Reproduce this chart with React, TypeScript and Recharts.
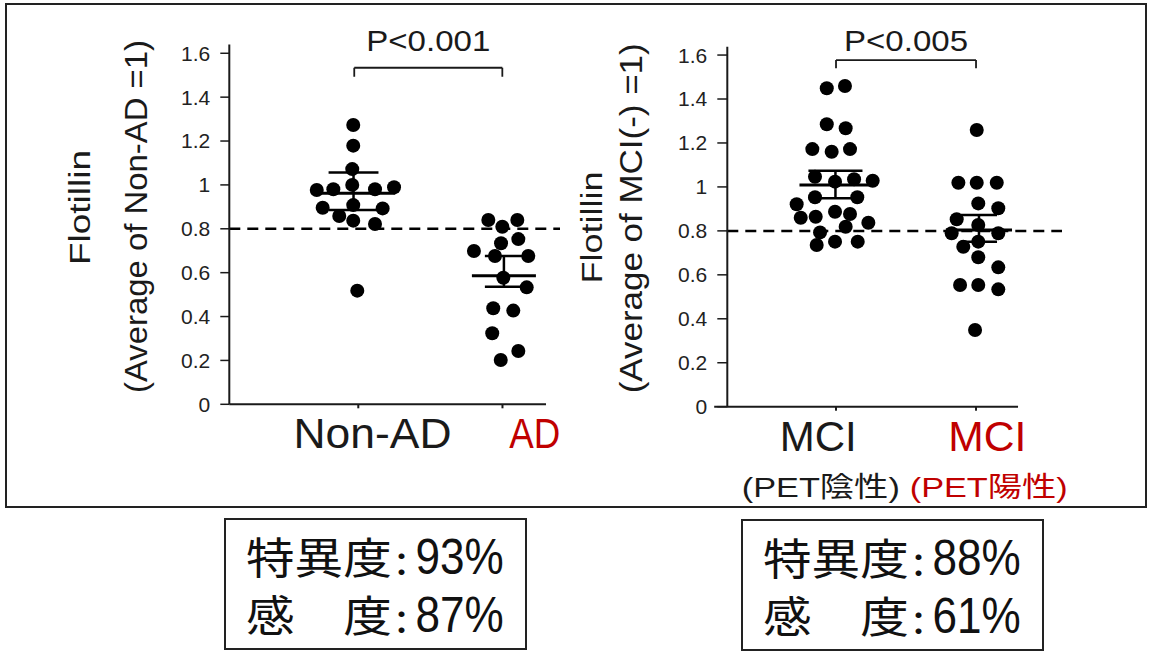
import React from 'react';
import { ScatterChart, Scatter, XAxis, YAxis, ReferenceLine, Label } from 'recharts';

const FONT = '"Liberation Sans", Arial, "Noto Sans CJK JP", sans-serif';
const CJK = '"Noto Sans CJK JP", "Noto Sans CJK SC", sans-serif';
const INK = '#1a1a1a';
const RED = '#c00000';

const yTicks = [0, 0.2, 0.4, 0.6, 0.8, 1, 1.2, 1.4, 1.6];
const cutoff = 0.8;

// Non-AD vs AD (jitter = horizontal spread around the category)
const nonAdValues = [1.273, 1.179, 1.072, 0.977, 0.98, 1.0, 0.98, 0.989, 0.896, 0.908, 0.893, 0.858, 0.837, 0.822, 0.518];
const nonAdJitter = [-0.035, -0.035, -0.042, -0.288, -0.173, -0.042, 0.116, 0.248, -0.247, -0.035, 0.169, -0.132, -0.035, 0.116, -0.007];
const adValues = [0.84, 0.84, 0.809, 0.753, 0.734, 0.699, 0.676, 0.676, 0.577, 0.533, 0.438, 0.427, 0.324, 0.243, 0.202];
const adJitter = [-0.098, 0.103, -0.001, 0.11, -0.01, -0.198, -0.052, 0.179, 0.006, 0.168, -0.064, 0.075, -0.071, 0.11, -0.012];

// MCI PET(-) vs MCI PET(+)
const mciNegValues = [1.449, 1.459, 1.285, 1.267, 1.172, 1.16, 1.172, 1.046, 1.024, 1.035, 1.028, 0.953, 0.953, 0.921, 0.887, 0.877, 0.86, 0.864, 0.837, 0.793, 0.819, 0.736, 0.751, 0.751];
const mciNegJitter = [-0.066, 0.064, -0.066, 0.069, -0.169, -0.031, 0.1, -0.15, -0.007, 0.129, 0.262, -0.15, 0.152, -0.281, -0.007, 0.1, -0.252, -0.145, 0.231, -0.114, 0.069, -0.138, -0.007, 0.155];
const mciPosValues = [1.259, 1.019, 1.019, 1.019, 0.925, 0.903, 0.853, 0.827, 0.789, 0.789, 0.728, 0.751, 0.68, 0.634, 0.554, 0.554, 0.534, 0.349];
const mciPosJitter = [0.005, -0.126, 0.005, 0.148, 0.016, 0.159, -0.138, 0.016, -0.174, 0.159, -0.091, 0.016, 0.016, 0.159, -0.114, 0.016, 0.159, -0.007];

// mean, lower SEM, upper SEM as drawn
const nonAdStats = [0.962, 0.886, 1.056];
const adStats = [0.586, 0.536, 0.676];
const mciNegStats = [1.009, 0.948, 1.074];
const mciPosStats = [0.804, 0.751, 0.872];

const leftLabels = ['Non-AD', 'AD'];
const rightLabels = ['MCI', 'MCI'];
const rightSubLabels = ['(PET陰性)', '(PET陽性)'];
const leftP = 'P<0.001';
const rightP = 'P<0.005';
const specLabels = ['特異度', '感\u3000度'];
const leftSpec = ['93%', '87%'];
const rightSpec = ['88%', '61%'];

const toPoints = (vals: number[], jit: number[], cat: number) =>
  vals.map((v, i) => ({ x: cat + jit[i], y: v }));

const dot = (p: any) => <circle cx={p.cx} cy={p.cy} r={7} fill="#000" />;

function StatLines({ center, stats, meanHalf, capHalf }: any) {
  const [m, lo, hi] = stats;
  const s = { stroke: '#000', strokeWidth: 2.5 };
  return [
    <ReferenceLine key="m" segment={[{ x: center - meanHalf, y: m }, { x: center + meanHalf, y: m }]} stroke="#000" strokeWidth={3} />,
    <ReferenceLine key="v" segment={[{ x: center, y: lo }, { x: center, y: hi }]} {...s} />,
    <ReferenceLine key="h" segment={[{ x: center - capHalf, y: hi }, { x: center + capHalf, y: hi }]} {...s} />,
    <ReferenceLine key="l" segment={[{ x: center - capHalf, y: lo }, { x: center + capHalf, y: lo }]} {...s} />,
  ];
}

function Panel(cfg: any) {
  const {
    left, width, margin, yAxisWidth, xDomain, yDomain, axisStart, axisEnd, groups,
    bracket, pText, pOffset, labels, labelShift, subLabels, subShift, yLabels, yTickSize,
  } = cfg;

  const renderTick = (props: any) => {
    const i = props.payload.value === 1 ? 0 : 1;
    return (
      <g>
        <text x={props.x + labelShift[i]} y={props.y} dy={38} textAnchor="middle" fontSize={42}
          fontFamily={FONT} fill={i === 0 ? INK : RED}
          textLength={labels[i].w} lengthAdjust="spacingAndGlyphs">{labels[i].t}</text>
        {subLabels && (
          <text x={props.x + subShift[i]} y={props.y} dy={84} textAnchor="middle" fontSize={28}
            fontFamily={FONT} fill={i === 0 ? INK : RED}
            textLength={158} lengthAdjust="spacingAndGlyphs">{subLabels[i]}</text>
        )}
      </g>
    );
  };

  const yLabel = () => (
    <g fontFamily={FONT} fill={INK}>
      {yLabels.map((l: any, i: number) => (
        <text key={i} transform={`translate(${l.x},${l.y}) rotate(-90)`} textAnchor="middle"
          fontSize={l.size} textLength={l.len} lengthAdjust="spacingAndGlyphs">{l.t}</text>
      ))}
    </g>
  );

  const pLabel = (p: any) => {
    const vb = p.viewBox || {};
    return (
      <text x={vb.x + (vb.width || 0) / 2} y={vb.y - pOffset} textAnchor="middle" fontSize={29}
        fontFamily={FONT} fill={INK} textLength={124} lengthAdjust="spacingAndGlyphs">{pText}</text>
    );
  };

  const [bx1, bx2, bTop, bLeg] = bracket;
  const line = { stroke: INK, strokeWidth: 1.8 };

  return (
    <div style={{ position: 'absolute', left, top: 0 }}>
      <ScatterChart width={width} height={505} margin={margin}>
        <XAxis type="number" dataKey="x" domain={xDomain} ticks={[1, 2]} allowDataOverflow
          axisLine={false} tickSize={4} tickLine={{ stroke: INK, strokeWidth: 2 }} height={90}
          tick={renderTick} interval={0} />
        <YAxis type="number" dataKey="y" domain={yDomain} ticks={yTicks} allowDataOverflow
          width={yAxisWidth} tickSize={yTickSize} tickMargin={10}
          axisLine={{ stroke: INK, strokeWidth: 2 }} tickLine={{ stroke: INK, strokeWidth: 1.5 }}
          tick={{ fontSize: 21, fill: '#222', fontFamily: FONT }} interval={0}>
          <Label content={yLabel} />
        </YAxis>
        <ReferenceLine segment={[{ x: axisStart, y: 0 }, { x: axisEnd, y: 0 }]} stroke={INK} strokeWidth={2} ifOverflow="visible" />
        <ReferenceLine y={cutoff} stroke="#000" strokeWidth={2.5} strokeDasharray="11 7" />
        {groups.map((g: any, i: number) => (
          <Scatter key={i} data={toPoints(g.values, g.jitter, i + 1)} shape={dot} isAnimationActive={false} />
        ))}
        {groups.map((g: any) => StatLines(g))}
        <ReferenceLine segment={[{ x: bx1, y: bLeg }, { x: bx1, y: bTop }]} {...line} />
        <ReferenceLine segment={[{ x: bx2, y: bLeg }, { x: bx2, y: bTop }]} {...line} />
        <ReferenceLine segment={[{ x: bx1, y: bTop }, { x: bx2, y: bTop }]} {...line}>
          <Label content={pLabel} />
        </ReferenceLine>
      </ScatterChart>
    </div>
  );
}

function SpecBox({ left, top, values }: any) {
  return (
    <div style={{ position: 'absolute', left, top, width: 303, height: 132, border: '2px solid #222', boxSizing: 'border-box' }}>
      <div style={{
        position: 'absolute', left: 20, top: 6, fontFamily: CJK, fontSize: 40, lineHeight: '58px', color: '#111',
        transform: 'scaleX(1.13)', transformOrigin: 'left top', whiteSpace: 'nowrap',
      }}>
        {specLabels.map((lab, i) => (
          <div key={i} style={{ display: 'flex', alignItems: 'baseline', height: 58 }}>
            <span style={{ width: 132, fontSize: 43 }}>{lab}</span>
            <span style={{ width: 18 }}>:</span>
            <span style={{
              display: 'inline-block', fontFamily: FONT, fontSize: 50, lineHeight: '50px',
              transform: 'scaleX(0.78)', transformOrigin: 'left center',
            }}>{values[i]}</span>
          </div>
        ))}
      </div>
    </div>
  );
}

export default function App() {
  return (
    <div style={{ position: 'absolute', left: 0, top: 0, width: 1149, height: 655, background: '#fff', overflow: 'hidden' }}>
      <div style={{ position: 'absolute', left: 5, top: 3, width: 1142, height: 505, border: '2px solid #222', boxSizing: 'border-box' }} />
      <Panel
        left={0} width={580}
        margin={{ top: 44.5, right: 20, bottom: 10.7, left: 0 }}
        yAxisWidth={229.3} yTickSize={9}
        xDomain={[0.1054, 2.399]} yDomain={[0, 1.64]} axisStart={0.1054} axisEnd={2.302}
        groups={[
          { values: nonAdValues, jitter: nonAdJitter, stats: nonAdStats, center: 0.967, meanHalf: 0.29, capHalf: 0.173 },
          { values: adValues, jitter: adJitter, stats: adStats, center: 2.01, meanHalf: 0.222, capHalf: 0.132 },
        ]}
        bracket={[0.972, 1.999, 1.534, 1.493]} pText={leftP} pOffset={17}
        labels={[{ t: leftLabels[0], w: 158 }, { t: leftLabels[1], w: 51 }]} labelShift={[14.2, 32.2]}
        yLabels={[
          { t: 'Flotillin', x: 90, y: 207.5, len: 115, size: 30 },
          { t: '(Average of Non-AD =1)', x: 146.7, y: 216.5, len: 353, size: 31 },
        ]}
      />
      <Panel
        left={560} width={589}
        margin={{ top: 46.7, right: 87, bottom: 8.3, left: 0 }}
        yAxisWidth={167.3} yTickSize={10}
        xDomain={[0.2236, 2.614]} yDomain={[0, 1.638]} axisStart={0.13} axisEnd={2.3}
        groups={[
          { values: mciNegValues, jitter: mciNegJitter, stats: mciNegStats, center: 0.996, meanHalf: 0.257, capHalf: 0.193 },
          { values: mciPosValues, jitter: mciPosJitter, stats: mciPosStats, center: 2.021, meanHalf: 0.236, capHalf: 0.129 },
        ]}
        bracket={[1.0, 2.0, 1.577, 1.54]} pText={rightP} pOffset={9.3}
        labels={[{ t: rightLabels[0], w: 77 }, { t: rightLabels[1], w: 78 }]} labelShift={[-17.7, 11.2]}
        subLabels={rightSubLabels} subShift={[-15.2, 12.7]}
        yLabels={[
          { t: 'Flotillin', x: 41.7, y: 227.5, len: 112, size: 30 },
          { t: '(Average of MCI(-) =1)', x: 81.7, y: 218.3, len: 350, size: 31 },
        ]}
      />
      <SpecBox left={224} top={518} values={leftSpec} />
      <SpecBox left={741} top={519} values={rightSpec} />
    </div>
  );
}
